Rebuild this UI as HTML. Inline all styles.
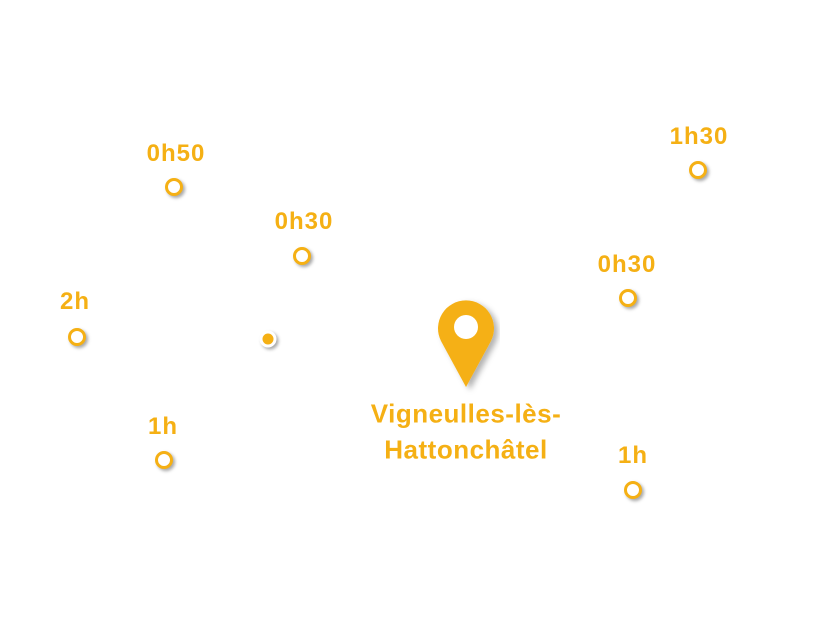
<!DOCTYPE html>
<html><head><style>
body{margin:0;width:813px;height:622px;background:#fff;position:relative;overflow:hidden;font-family:"Liberation Sans",sans-serif;}
.c{position:absolute;width:12px;height:12px;border:3px solid #F5B014;border-radius:50%;background:#fff;box-shadow:2px 2px 3px rgba(0,0,0,.35);transform:translate(-50%,-50%);}
.d{position:absolute;width:11px;height:11px;border:3px solid #fff;border-radius:50%;background:#F5B014;box-shadow:2px 2px 3px rgba(0,0,0,.35);transform:translate(-50%,-50%);}
.t{position:absolute;color:#F5B014;font-weight:bold;font-size:24px;letter-spacing:1px;transform:translate(-50%,-50%);white-space:nowrap;}
.b{font-size:26px;letter-spacing:0.5px;}
</style></head><body>
<div class="t" style="left:176px;top:154px">0h50</div><div class="c" style="left:174px;top:187px"></div>
<div class="t" style="left:304px;top:222px">0h30</div><div class="c" style="left:302px;top:256px"></div>
<div class="t" style="left:699px;top:137px">1h30</div><div class="c" style="left:698px;top:170px"></div>
<div class="t" style="left:627px;top:265px">0h30</div><div class="c" style="left:628px;top:298px"></div>
<div class="t" style="left:75px;top:302px">2h</div><div class="c" style="left:77px;top:337px"></div>
<div class="d" style="left:268px;top:339px"></div>
<div class="t" style="left:163px;top:427px">1h</div><div class="c" style="left:164px;top:460px"></div>
<div class="t" style="left:633px;top:456px">1h</div><div class="c" style="left:633px;top:490px"></div>
<svg style="position:absolute;left:430px;top:292px" width="80" height="105">
<defs><filter id="s"><feDropShadow dx="4" dy="3" stdDeviation="3" flood-opacity=".3"/></filter></defs>
<path filter="url(#s)" d="M36 95 L11 49 A28 28 0 1 1 61 49 Z" fill="#F5B014"/>
<circle cx="36" cy="35" r="12" fill="#fff"/>
</svg>
<div class="t b" style="left:466px;top:414px">Vigneulles-lès-</div>
<div class="t b" style="left:466px;top:450px">Hattonchâtel</div>
</body></html>
